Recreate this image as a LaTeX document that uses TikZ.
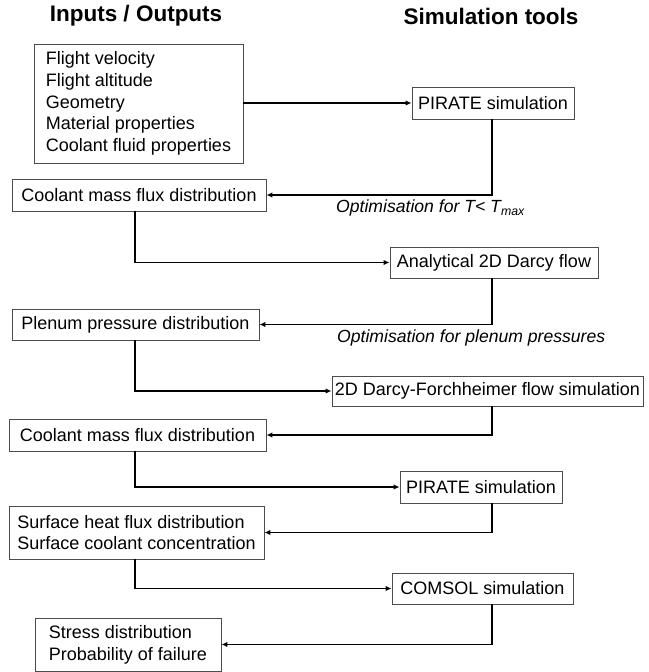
\documentclass[tikz,border=0pt]{standalone}
\usepackage{fontspec}
\setmainfont{Liberation Sans}
\usetikzlibrary{calc, positioning}
\usetikzlibrary{arrows.meta}

\begin{document}
\begin{tikzpicture}[x=1pt, y=-1pt,
  box/.style={draw=black!70, line width=0.9pt, inner sep=0pt, align=left,
    font=\fontsize{18}{21.7}\selectfont},
  head/.style={font=\fontsize{22.5}{25}\selectfont\bfseries},
  note/.style={anchor=west, inner sep=0pt, font=\fontsize{17.6}{20}\selectfont\itshape},
  arr/.style={line width=1.5pt, -{Latex[length=6pt,width=5.5pt]}}]

\useasboundingbox (0,0) rectangle (648,672);

\node[head] (hin) at (136,16) {Inputs / Outputs};
\node[head] (hsim) at (491,16) {Simulation tools};

\node[box, minimum width=209, minimum height=119] (inp) at (138.5,103.5)
  {Flight velocity\\Flight altitude\\Geometry\\Material properties\\Coolant fluid properties};
\node[box, minimum width=162, minimum height=32] (pirA) at (493,103) {PIRATE simulation};
\node[box, minimum width=254, minimum height=32] (coolA) at (139,195) {Coolant mass flux distribution};
\node[box, minimum width=208, minimum height=31] (ana) at (494,262.5) {Analytical 2D Darcy flow};
\node[box, minimum width=247, minimum height=31] (plen) at (135.5,324.5) {Plenum pressure distribution};
\node[box, minimum width=311, minimum height=30] (darcy) at (487.5,391) {2D Darcy-Forchheimer flow simulation};
\node[box, minimum width=257, minimum height=32] (coolB) at (137.5,435) {Coolant mass flux distribution};
\node[box, minimum width=162, minimum height=32] (pirB) at (481,487) {PIRATE simulation};
\node[box, minimum width=255, minimum height=53] (surf) at (136.5,532.5)
  {Surface heat flux distribution\\Surface coolant concentration};
\node[box, minimum width=181, minimum height=31] (comsol) at (482.5,588.5) {COMSOL simulation};
\node[box, minimum width=186, minimum height=53] (stress) at (128,644.5)
  {Stress distribution\\Probability of failure};

\node[note] (optA) at (336,208) {Optimisation for T< T\textsubscript{max}};
\node[note] (optB) at (337,338) {Optimisation for plenum pressures};

\coordinate (lx) at (135,0);
\coordinate (rx) at (492,0);

\draw[arr] (inp.east |- pirA) -- (pirA.west);
\draw[arr] (pirA.south -| rx) |- (coolA.east);
\draw[arr] (coolA.south -| lx) |- (ana.west);
\draw[arr] (ana.south -| rx) |- (plen.east);
\draw[arr] (plen.south -| lx) |- (darcy.west);
\draw[arr] (darcy.south -| rx) |- (coolB.east);
\draw[arr] (coolB.south -| lx) |- (pirB.west);
\draw[arr] (pirB.south -| rx) |- (surf.east);
\draw[arr] (surf.south -| lx) |- (comsol.west);
\draw[arr] (comsol.south -| rx) |- (stress.east);
\end{tikzpicture}
\end{document}
